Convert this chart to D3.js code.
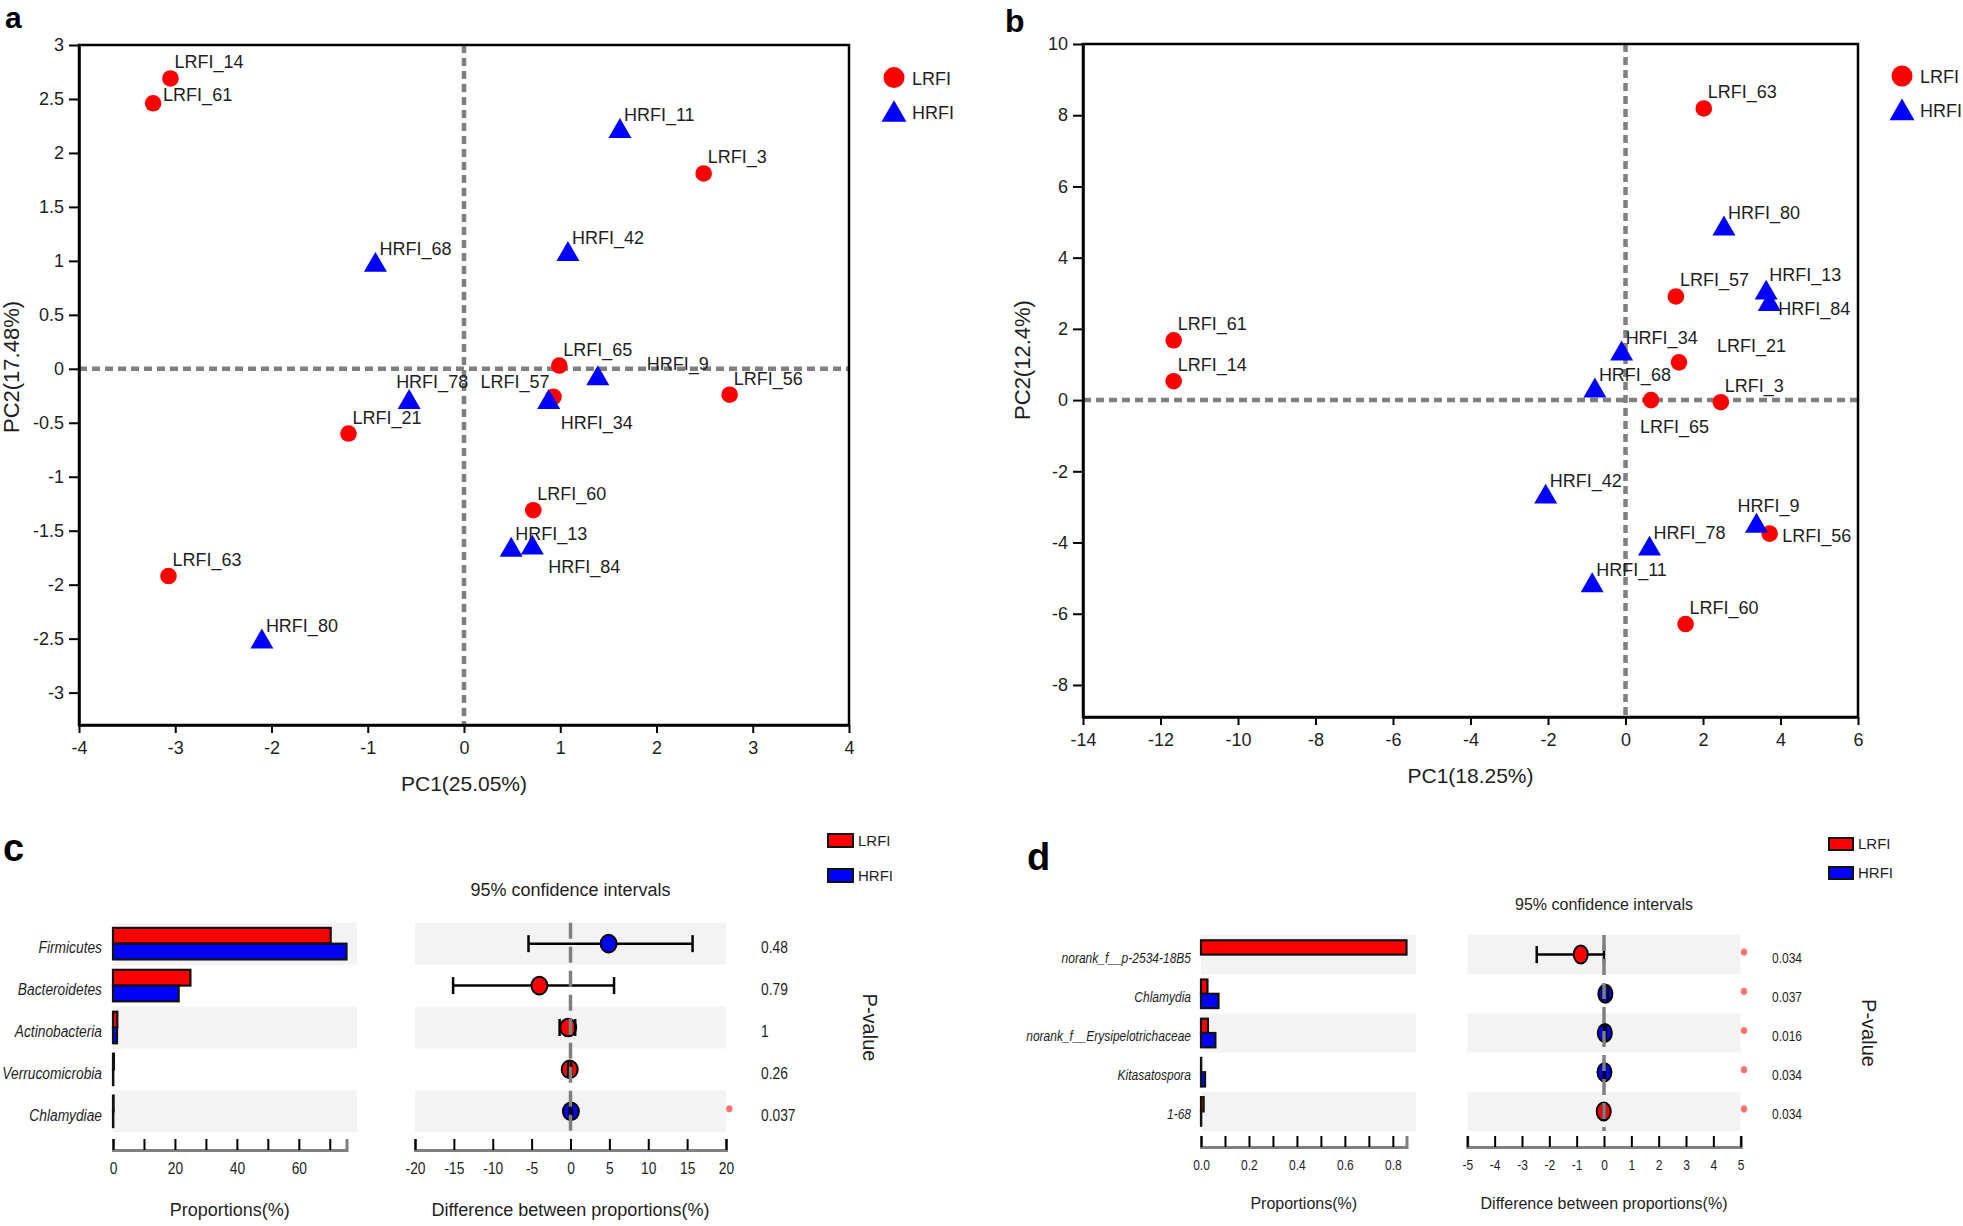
<!DOCTYPE html>
<html><head><meta charset="utf-8">
<script src="https://cdn.jsdelivr.net/npm/d3@7"></script>
<style>
html,body{margin:0;padding:0;background:#fff;}
svg{display:block;font-family:"Liberation Sans",Arial,Helvetica,sans-serif;}
</style></head><body>
<svg id="chart" width="1963" height="1226"></svg>
<script>
// ===================== DATA =====================
const groups = ["LRFI", "HRFI"];

// Panel a : PCA
const pcaASamples = ["LRFI_14","LRFI_61","HRFI_11","LRFI_3","HRFI_68","HRFI_42","LRFI_65","HRFI_9","LRFI_56","HRFI_78","LRFI_57","HRFI_34","LRFI_21","LRFI_60","HRFI_13","HRFI_84","LRFI_63","HRFI_80"];
const pcaAPC1 = [-3.05,-3.23,1.62,2.49,-0.92,1.08,0.99,1.39,2.76,-0.57,0.93,0.88,-1.20,0.72,0.49,0.71,-3.07,-2.10];
const pcaAPC2 = [2.69,2.46,2.20,1.81,0.96,1.06,0.03,-0.09,-0.24,-0.31,-0.26,-0.31,-0.60,-1.31,-1.68,-1.66,-1.92,-2.53];
const pcaAXTicks = [-4,-3,-2,-1,0,1,2,3,4];
const pcaAYTicks = [-3,-2.5,-2,-1.5,-1,-0.5,0,0.5,1,1.5,2,2.5,3];

// Panel b : PCA
const pcaBSamples = ["LRFI_63","HRFI_80","LRFI_57","HRFI_13","HRFI_84","LRFI_61","LRFI_14","HRFI_34","LRFI_21","HRFI_68","LRFI_65","LRFI_3","HRFI_42","HRFI_9","LRFI_56","HRFI_78","HRFI_11","LRFI_60"];
const pcaBPC1 = [2.02,2.54,1.30,3.63,3.71,-11.66,-11.66,-0.10,1.38,-0.79,0.66,2.46,-2.06,3.38,3.72,0.62,-0.86,1.55];
const pcaBPC2 = [8.19,4.81,2.91,3.01,2.69,1.68,0.53,1.30,1.06,0.26,0.00,-0.06,-2.72,-3.54,-3.75,-4.18,-5.21,-6.29];
const pcaBXTicks = [-14,-12,-10,-8,-6,-4,-2,0,2,4,6];
const pcaBYTicks = [-8,-6,-4,-2,0,2,4,6,8,10];

// Panel c : phyla
const phylaC = ["Firmicutes","Bacteroidetes","Actinobacteria","Verrucomicrobia","Chlamydiae"];
const propLRFIC = [70.3, 25.0, 1.4, 0.3, 0.2];
const propHRFIC = [75.4, 21.2, 1.3, 0.1, 0.1];
const diffC = [4.9, -4.0, -0.3, -0.1, 0.05];
const ciLowC = [-5.4, -15.1, -1.4, -0.3, -0.1];
const ciHighC = [15.7, 5.6, 0.6, 0.1, 0.2];
const pValueC = ["0.48", "0.79", "1", "0.26", "0.037"];
const propTicksC = [0,10,20,30,40,50,60,70];
const propLabelsC = [0,20,40,60];
const diffTicksC = [-20,-15,-10,-5,0,5,10,15,20];

// Panel d : genera
const generaD = ["norank_f__p-2534-18B5","Chlamydia","norank_f__Erysipelotrichaceae","Kitasatospora","1-68"];
const propLRFID = [0.857, 0.027, 0.029, 0.001, 0.011];
const propHRFID = [0.0, 0.073, 0.060, 0.017, 0.001];
const diffD = [-0.85, 0.05, 0.03, 0.016, -0.011];
const ciLowD = [-2.46, -0.05, 0.0, 0.0, -0.03];
const ciHighD = [0.0, 0.15, 0.07, 0.035, 0.005];
const pValueD = ["0.034", "0.037", "0.016", "0.034", "0.034"];
const propTicksD = [0,0.1,0.2,0.3,0.4,0.5,0.6,0.7,0.8];
const propLabelsD = [0,0.2,0.4,0.6,0.8];
const diffTicksD = [-5,-4,-3,-2,-1,0,1,2,3,4,5];

// ===================== DRAWING =====================
const svg = d3.select("#chart");
const FONT = "'Liberation Sans', Arial, Helvetica, sans-serif";
const RED = "#ff0000", BLUE = "#0000ff", TXT = "#1e1e1e";
const color = d3.scaleOrdinal(groups, [RED, BLUE]);

function condense(sel, f) {
  sel.each(function () {
    const w = this.getComputedTextLength();
    d3.select(this).attr("textLength", w * f).attr("lengthAdjust", "spacingAndGlyphs");
  });
}

function panelLetter(t, x, y, size) {
  svg.append("text").attr("x", x).attr("y", y).attr("font-size", size)
    .attr("font-weight", "bold").attr("font-family", FONT).attr("fill", "#000").text(t);
}

function scatter(o) {
  const g = svg.append("g");
  const x = d3.scaleLinear().domain(o.xDomain).range([o.left, o.right]);
  const y = d3.scaleLinear().domain(o.yDomain).range([o.bottom, o.top]);

  const dash = { stroke: "#7f7f7f", "stroke-width": 4.5, "stroke-dasharray": "8,5" };
  const vl = g.append("line").attr("x1", x(0)).attr("x2", x(0)).attr("y1", o.top).attr("y2", o.bottom);
  const hl = g.append("line").attr("x1", o.left).attr("x2", o.right).attr("y1", y(0)).attr("y2", y(0));
  [vl, hl].forEach(l => Object.entries(dash).forEach(([k, v]) => l.attr(k, v)));

  const xa = g.append("g").attr("transform", `translate(0,${o.bottom})`)
    .call(d3.axisBottom(x).tickValues(o.xTicks).tickFormat(d => String(d)).tickSizeInner(8).tickSizeOuter(0).tickPadding(8));
  const ya = g.append("g").attr("transform", `translate(${o.left},0)`)
    .call(d3.axisLeft(y).tickValues(o.yTicks).tickFormat(d => String(d)).tickSizeInner(10).tickSizeOuter(0).tickPadding(5));
  [xa, ya].forEach(a => {
    a.selectAll("text").attr("font-size", 18).attr("fill", TXT).attr("font-family", FONT);
    a.selectAll(".tick line").attr("stroke", "#000").attr("stroke-width", 2);
    a.select(".domain").attr("stroke", "#000").attr("stroke-width", 2.5);
  });
  g.append("rect").attr("x", o.left).attr("y", o.top).attr("width", o.right - o.left)
    .attr("height", o.bottom - o.top).attr("fill", "none").attr("stroke", "#000").attr("stroke-width", 2.5);

  // axis titles
  g.append("text").attr("x", (o.left + o.right) / 2).attr("y", o.xTitleY).attr("text-anchor", "middle")
    .attr("font-size", 21).attr("fill", TXT).attr("font-family", FONT).text(o.xTitle);
  g.append("text").attr("transform", `translate(${o.yTitleX},${o.yTitleY}) rotate(-90)`).attr("text-anchor", "middle")
    .attr("font-size", 22).attr("fill", TXT).attr("font-family", FONT).text(o.yTitle);

  const data = o.samples.map((s, i) => ({ name: s, grp: s.split("_")[0], px: o.pc1[i], py: o.pc2[i] }));
  const tri = d3.symbol().type(d3.symbolTriangle).size(229);
  g.selectAll("circle.pt").data(data.filter(d => d.grp === "LRFI")).join("circle").attr("class", "pt")
    .attr("cx", d => x(d.px)).attr("cy", d => y(d.py)).attr("r", 8.3).attr("fill", color("LRFI"));
  g.selectAll("path.pt").data(data.filter(d => d.grp === "HRFI")).join("path").attr("class", "pt")
    .attr("d", tri).attr("transform", d => `translate(${x(d.px)},${y(d.py)})`).attr("fill", color("HRFI"));

  g.selectAll("text.lbl").data(data).join("text").attr("class", "lbl")
    .each(function (d) {
      const off = o.labelOffsets[d.name] || [4, -10, "start"];
      d3.select(this).attr("x", x(d.px) + off[0]).attr("y", y(d.py) + off[1]).attr("text-anchor", off[2]);
    })
    .attr("font-size", 18).attr("fill", TXT).attr("font-family", FONT).text(d => d.name);

  // legend
  const lg = g.append("g");
  lg.append("circle").attr("cx", o.legX).attr("cy", o.legY).attr("r", 10.5).attr("fill", color("LRFI"));
  lg.append("path").attr("d", d3.symbol().type(d3.symbolTriangle).size(270))
    .attr("transform", `translate(${o.legX},${o.legY + 37})`).attr("fill", color("HRFI"));
  lg.selectAll("text").data(groups).join("text").attr("x", o.legX + 18).attr("y", (d, i) => o.legY + 7 + i * 34)
    .attr("font-size", 18).attr("fill", TXT).attr("font-family", FONT).text(d => d);
}

function diffPanel(o) {
  const g = svg.append("g");
  const yRow = d3.scaleBand().domain(o.names).range([o.rowTop, o.rowBottom]);
  const yBar = d3.scaleBand().domain(groups).range([0, yRow.bandwidth()]).paddingInner(0).paddingOuter(o.barPad);
  const vmax = d3.max(o.l.concat(o.h));
  const xBar = d3.scaleLinear().domain([0, vmax]).range([o.barLeft, o.barRight]);
  const xCI = d3.scaleLinear().domain(o.ciDomain).range([o.ciLeft, o.ciRight]);
  const rows = o.names.map((n, i) => ({ name: n, i, l: o.l[i], h: o.h[i], diff: o.diff[i], lo: o.lo[i], hi: o.hi[i], p: o.p[i] }));
  const cy = d => yRow(d.name) + yRow.bandwidth() / 2;

  // striped backgrounds
  const bg = rows.filter(d => d.i % 2 === 0);
  g.selectAll("rect.bgA").data(bg).join("rect").attr("x", o.barLeft).attr("y", d => yRow(d.name))
    .attr("width", o.barBgRight - o.barLeft).attr("height", yRow.bandwidth()).attr("fill", "#f3f3f3");
  g.selectAll("rect.bgB").data(bg).join("rect").attr("x", o.ciLeft).attr("y", d => yRow(d.name))
    .attr("width", o.ciRight - o.ciLeft).attr("height", yRow.bandwidth()).attr("fill", "#f3f3f3");

  // bars
  const barData = rows.flatMap(d => groups.map(gr => ({ name: d.name, grp: gr, v: gr === "LRFI" ? d.l : d.h })));
  g.selectAll("rect.bar").data(barData).join("rect").attr("class", "bar")
    .attr("x", xBar(0)).attr("y", d => yRow(d.name) + yBar(d.grp))
    .attr("width", d => xBar(d.v) - xBar(0)).attr("height", yBar.bandwidth())
    .attr("fill", d => color(d.grp)).attr("stroke", "#111").attr("stroke-width", 2.2);

  // category labels
  const lab = g.selectAll("text.cat").data(rows).join("text").attr("x", o.labelX).attr("y", d => cy(d) + o.textShift)
    .attr("text-anchor", "end").attr("font-style", "italic").attr("font-size", o.catSize)
    .attr("fill", TXT).attr("font-family", FONT).text(d => d.name);
  condense(lab, o.squeeze);

  // CI
  g.selectAll("line.err").data(rows).join("line").attr("x1", d => xCI(d.lo)).attr("x2", d => xCI(d.hi))
    .attr("y1", cy).attr("y2", cy).attr("stroke", "#000").attr("stroke-width", 2.5);
  g.selectAll("ellipse.pt").data(rows).join("ellipse").attr("cx", d => xCI(d.diff)).attr("cy", cy)
    .attr("rx", o.rx).attr("ry", o.ry).attr("fill", d => d.diff >= 0 ? color("HRFI") : color("LRFI"))
    .attr("stroke", "#000").attr("stroke-width", 2);
  const caps = rows.flatMap(d => [{ d, v: d.lo }, { d, v: d.hi }]);
  g.selectAll("line.cap").data(caps).join("line").attr("x1", c => xCI(c.v)).attr("x2", c => xCI(c.v))
    .attr("y1", c => cy(c.d) - 8.5).attr("y2", c => cy(c.d) + 8.5).attr("stroke", "#000").attr("stroke-width", 2.5);
  g.append("line").attr("x1", xCI(0)).attr("x2", xCI(0)).attr("y1", o.rowTop).attr("y2", o.rowBottom)
    .attr("stroke", "#7f7f7f").attr("stroke-width", 3.5).attr("stroke-dasharray", "16,8");

  // significance dots & p-values
  g.selectAll("ellipse.sig").data(rows.filter(d => +d.p < 0.05)).join("ellipse")
    .attr("cx", o.ciRight + 3.3).attr("cy", d => cy(d) - 2.5).attr("rx", 3.2).attr("ry", 3.6)
    .attr("fill", "#ff5a5a").attr("opacity", 0.85);
  const pv = g.selectAll("text.pv").data(rows).join("text").attr("x", o.pX).attr("y", d => cy(d) + o.textShift)
    .attr("font-size", o.catSize).attr("fill", TXT).attr("font-family", FONT).text(d => d.p);
  condense(pv, o.squeeze);
  g.append("text").attr("transform", `translate(${o.pTitleX},${(o.rowTop + o.rowBottom) / 2}) rotate(90)`)
    .attr("dy", "0.35em").attr("text-anchor", "middle").attr("font-size", 20).attr("fill", TXT)
    .attr("font-family", FONT).text("P-value");

  // axes
  const fmt = o.propFmt;
  const ax1 = g.append("g").attr("transform", `translate(0,${o.axisY})`)
    .call(d3.axisBottom(xBar).tickValues(o.propTicks).tickFormat(d => o.propLabels.some(v => Math.abs(v - d) < 1e-9) ? fmt(d) : "")
      .tickSizeInner(-11).tickSizeOuter(-11).tickPadding(o.tickPad));
  const ax2 = g.append("g").attr("transform", `translate(0,${o.axisY})`)
    .call(d3.axisBottom(xCI).tickValues(o.diffTicks).tickFormat(d => String(d))
      .tickSizeInner(-11).tickSizeOuter(-11).tickPadding(o.tickPad));
  [ax1, ax2].forEach(a => {
    a.select(".domain").attr("stroke", "#808080").attr("stroke-width", 3);
    a.selectAll(".tick line").attr("stroke", "#000").attr("stroke-width", 2);
    const t = a.selectAll("text").attr("font-size", o.tickSize).attr("fill", TXT).attr("font-family", FONT);
    condense(t, o.squeeze);
  });

  // titles
  g.append("text").attr("x", (o.barLeft + o.barRight) / 2).attr("y", o.axisTitleY).attr("text-anchor", "middle")
    .attr("font-size", o.titleSize).attr("fill", TXT).attr("font-family", FONT).text("Proportions(%)");
  g.append("text").attr("x", xCI(0)).attr("y", o.axisTitleY).attr("text-anchor", "middle")
    .attr("font-size", o.titleSize).attr("fill", TXT).attr("font-family", FONT).text("Difference between proportions(%)");
  g.append("text").attr("x", xCI(0)).attr("y", o.ciTitleY).attr("text-anchor", "middle")
    .attr("font-size", o.titleSize).attr("fill", TXT).attr("font-family", FONT).text("95% confidence intervals");

  // legend
  groups.forEach((gr, i) => {
    g.append("rect").attr("x", o.legX).attr("y", o.legY + i * o.legStep).attr("width", o.legW).attr("height", o.legH)
      .attr("fill", color(gr)).attr("stroke", "#111").attr("stroke-width", 2);
    g.append("text").attr("x", o.legX + o.legW + 5).attr("y", o.legY + i * o.legStep + o.legH - 1)
      .attr("font-size", 15).attr("fill", TXT).attr("font-family", FONT).text(gr);
  });
}

// ---- panel a ----
scatter({
  samples: pcaASamples, pc1: pcaAPC1, pc2: pcaAPC2,
  xDomain: [-4, 4], yDomain: [-3.3, 3], left: 79, right: 849, top: 45, bottom: 725,
  xTicks: pcaAXTicks, yTicks: pcaAYTicks,
  xTitle: "PC1(25.05%)", yTitle: "PC2(17.48%)", xTitleY: 791, yTitleX: 19, yTitleY: 367,
  legX: 894, legY: 77.6,
  labelOffsets: {
    LRFI_61: [10, -2, "start"],
    HRFI_34: [12, 27, "start"], LRFI_57: [-4, -9, "end"], HRFI_9: [49, -9, "start"],
    HRFI_84: [16, 25, "start"], HRFI_78: [-13, -14, "start"]
  }
});
// ---- panel b ----
scatter({
  samples: pcaBSamples, pc1: pcaBPC1, pc2: pcaBPC2,
  xDomain: [-14, 6], yDomain: [-8.9, 10], left: 1083, right: 1858, top: 44, bottom: 717,
  xTicks: pcaBXTicks, yTicks: pcaBYTicks,
  xTitle: "PC1(18.25%)", yTitle: "PC2(12.4%)", xTitleY: 783, yTitleX: 1030, yTitleY: 360,
  legX: 1902, legY: 76,
  labelOffsets: {
    HRFI_84: [9, 11, "start"], LRFI_21: [38, -10, "start"], LRFI_65: [-11, 33, "start"],
    HRFI_9: [-19, -14, "start"], LRFI_56: [12.5, 8, "start"], HRFI_13: [3, -12, "start"]
  }
});
// ---- panel c ----
diffPanel({
  names: phylaC, l: propLRFIC, h: propHRFIC, diff: diffC, lo: ciLowC, hi: ciHighC, p: pValueC,
  rowTop: 922.7, rowBottom: 1132.3, barPad: 0.33,
  barLeft: 113, barRight: 346.5, barBgRight: 357, ciLeft: 415, ciRight: 726, ciDomain: [-20, 20],
  labelX: 102, pX: 761, pTitleX: 870, textShift: 9.5, catSize: 16, squeeze: 0.86,
  rx: 8, ry: 8.8, axisY: 1150, tickPad: 13, tickSize: 16,
  propTicks: propTicksC, propLabels: propLabelsC, propFmt: d => String(d), diffTicks: diffTicksC,
  axisTitleY: 1216, ciTitleY: 896, titleSize: 18,
  legX: 828, legY: 834, legW: 25, legH: 13, legStep: 35
});
// ---- panel d ----
diffPanel({
  names: generaD, l: propLRFID, h: propHRFID, diff: diffD, lo: ciLowD, hi: ciHighD, p: pValueD,
  rowTop: 935, rowBottom: 1131, barPad: 0.37,
  barLeft: 1201, barRight: 1406.5, barBgRight: 1416, ciLeft: 1467.3, ciRight: 1740.7, ciDomain: [-5, 5],
  labelX: 1191, pX: 1772, pTitleX: 1869, textShift: 8, catSize: 15, squeeze: 0.8,
  rx: 7, ry: 9, axisY: 1147, tickPad: 12, tickSize: 15,
  propTicks: propTicksD, propLabels: propLabelsD, propFmt: d3.format(".1f"), diffTicks: diffTicksD,
  axisTitleY: 1209, ciTitleY: 910, titleSize: 16,
  legX: 1829, legY: 838, legW: 24, legH: 12, legStep: 29
});

panelLetter("a", 5, 28, 30);
panelLetter("b", 1005, 32, 32);
panelLetter("c", 3, 861, 38);
panelLetter("d", 1027, 870, 38);
</script>
</body></html>
